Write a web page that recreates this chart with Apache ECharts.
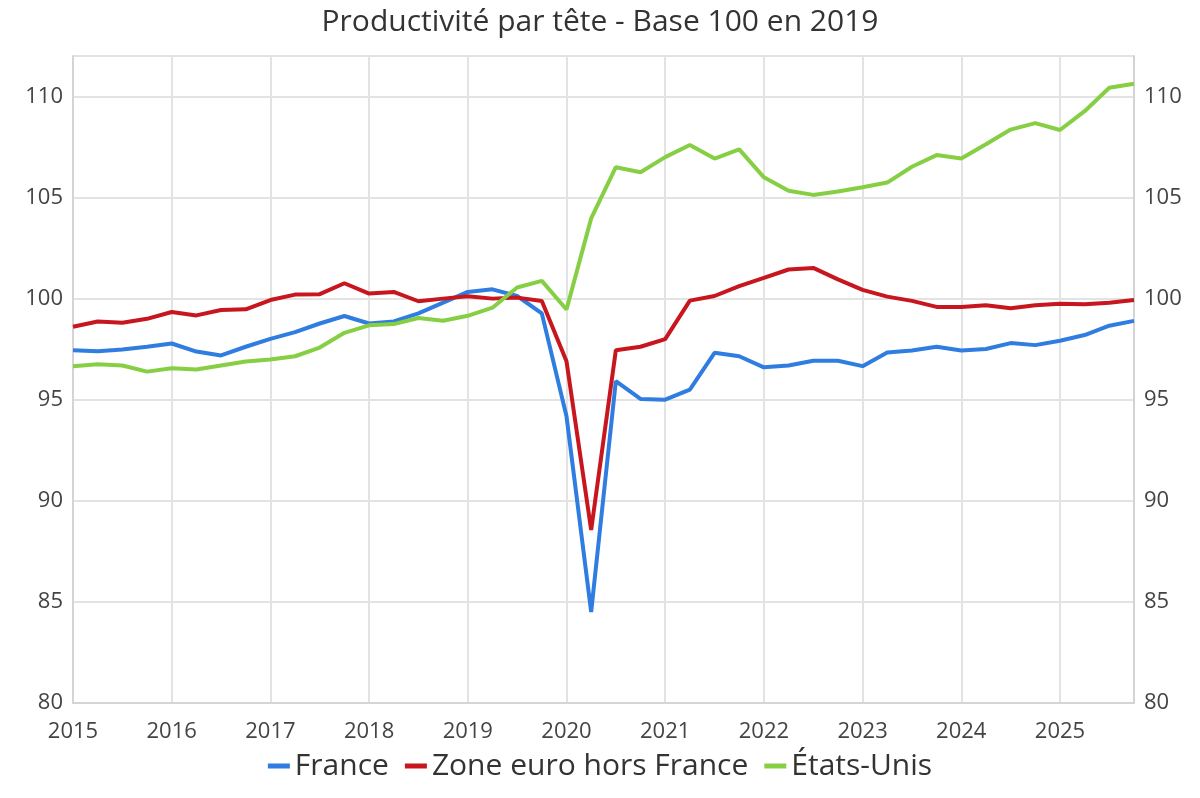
<!DOCTYPE html>
<html>
<head>
<meta charset="utf-8">
<script src="https://cdn.jsdelivr.net/npm/echarts@6/dist/echarts.min.js"></script>
<style>
html,body{margin:0;padding:0;background:#fff;}
#chart{width:1200px;height:798px;}
</style>
</head>
<body>
<div id="chart"></div>
<script>
const title = "Productivité par tête - Base 100 en 2019";
const startYear = 2015;
const seriesNames = ["France", "Zone euro hors France", "États-Unis"];
const seriesColors = ["#2f7de0", "#c8161e", "#86cf45"];

const france = [
  97.45, 97.40, 97.48, 97.62,
  97.78, 97.38, 97.19, 97.62,
  98.01, 98.34, 98.77, 99.14,
  98.77, 98.87, 99.27, 99.80,
  100.33, 100.46, 100.13, 99.27,
  94.18, 84.50, 95.92, 95.04,
  95.00, 95.50, 97.32, 97.15,
  96.60, 96.69, 96.93, 96.93,
  96.66, 97.34, 97.43, 97.62,
  97.43, 97.51, 97.80, 97.70,
  97.92, 98.20, 98.66, 98.90
];
const zoneEuro = [
  98.61, 98.87, 98.81, 99.00,
  99.34, 99.17, 99.44, 99.47,
  99.93, 100.20, 100.22, 100.76,
  100.25, 100.33, 99.87, 100.00,
  100.12, 100.00, 100.05, 99.88,
  96.90, 88.56, 97.45, 97.62,
  98.00, 99.90, 100.13, 100.62,
  101.03, 101.44, 101.52, 100.95,
  100.43, 100.10, 99.89, 99.59,
  99.59, 99.67, 99.52, 99.67,
  99.75, 99.72, 99.80, 99.93
];
const etatsUnis = [
  96.66, 96.75, 96.69, 96.39,
  96.56, 96.49, 96.69, 96.89,
  96.99, 97.15, 97.58, 98.31,
  98.68, 98.74, 99.04, 98.91,
  99.15, 99.55, 100.55, 100.88,
  99.46, 103.97, 106.50, 106.25,
  107.00, 107.60, 106.93, 107.38,
  106.00, 105.34, 105.13, 105.30,
  105.51, 105.74, 106.52, 107.10,
  106.93, 107.64, 108.36, 108.68,
  108.34, 109.27, 110.43, 110.63
];

// quarter positions (x values) : 2015 T1 ... 2025 T4
const quarters = france.map((_, i) => startYear + i / 4);
const allValues = [france, zoneEuro, etatsUnis];

const font = "'Open Sans', 'Noto Sans', sans-serif";
const chart = echarts.init(document.getElementById('chart'), null, {renderer: 'canvas'});

const yAxisCommon = {
  type: 'value', min: 80, max: 112, interval: 5,
  axisLine: {show: true, lineStyle: {color: '#d4d4d4', width: 2}},
  axisTick: {show: false},
  splitLine: {show: true, lineStyle: {color: '#e3e3e3', width: 2}},
  axisLabel: {
    color: '#444', fontSize: 22, fontFamily: font, margin: 10,
    showMaxLabel: false
  }
};

chart.setOption({
  animation: false,
  backgroundColor: '#fff',
  title: {
    text: title, left: 'center', top: 2,
    textStyle: {color: '#333', fontSize: 30, fontWeight: 'normal', fontFamily: font}
  },
  legend: {
    bottom: 12, left: 'center',
    itemWidth: 22, itemHeight: 5, itemGap: 16,
    icon: 'rect',
    textStyle: {color: '#333', fontSize: 30, fontFamily: font},
    data: seriesNames
  },
  grid: {left: 73, right: 66, top: 56, bottom: 95},
  xAxis: {
    type: 'value', min: 2015, max: 2025.75, interval: 1,
    axisLine: {show: true, lineStyle: {color: '#d4d4d4', width: 2}},
    axisTick: {show: false},
    splitLine: {show: true, lineStyle: {color: '#e3e3e3', width: 2}},
    axisLabel: {
      color: '#444', fontSize: 22, fontFamily: font, margin: 18,
      showMaxLabel: false,
      formatter: v => (Number.isInteger(v) ? String(v) : '')
    }
  },
  yAxis: [
    Object.assign({position: 'left'}, yAxisCommon),
    Object.assign({position: 'right'}, yAxisCommon)
  ],
  series: seriesNames.map((name, k) => ({
    name: name,
    type: 'line',
    yAxisIndex: 0,
    symbol: 'none',
    color: seriesColors[k],
    lineStyle: {width: 4, color: seriesColors[k]},
    data: quarters.map((q, i) => [q, allValues[k][i]])
  }))
});
</script>
</body>
</html>
